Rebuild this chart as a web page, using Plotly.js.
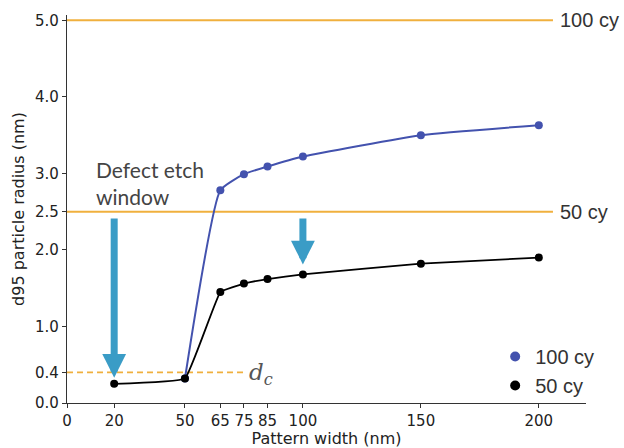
<!DOCTYPE html>
<html>
<head>
<meta charset="utf-8">
<script src="https://cdn.plot.ly/plotly-3.0.1.min.js"></script>
<style>html,body{margin:0;padding:0;background:#fff;}#chart{width:624px;height:448px;}</style>
</head>
<body>
<div id="chart"></div>
<script>
// Data
var widths100 = [50, 65, 75, 85, 100, 150, 200];
var radius100 = [0.32, 2.78, 2.99, 3.09, 3.22, 3.50, 3.63];
var widths50 = [20, 50, 65, 75, 85, 100, 150, 200];
var radius50 = [0.25, 0.32, 1.45, 1.56, 1.62, 1.68, 1.82, 1.90];
var seriesNames = ["100 cy", "50 cy"];
var limitLevels = [5.0, 2.5];          // "100 cy" and "50 cy" thresholds
var limitLabels = ["100 cy", "50 cy"];
var limitSpan = [0, 206];
var dcLevel = 0.4;
var dcSpan = [0, 75.5];
var xTicks = [0, 20, 50, 65, 75, 85, 100, 150, 200];
var yTicks = [0, 0.4, 1, 2, 2.5, 3, 4, 5];
var yTickText = ["0.0", "0.4", "1.0", "2.0", "2.5", "3.0", "4.0", "5.0"];
var arrowX = [20, 100];
var arrowTop = [2.43, 2.43];
var arrowTip = [0.33, 1.81];

var ORANGE = "#F0B03E";
var BLUE = "#4352AE";
var BLACK = "#000000";
var ARROW = "#3A9CC6";

var traces = [];
limitLevels.forEach(function (lv) {
  traces.push({x: limitSpan, y: [lv, lv], mode: "lines", line: {color: ORANGE, width: 2},
    showlegend: false, hoverinfo: "skip", cliponaxis: false});
});
traces.push({x: dcSpan, y: [dcLevel, dcLevel], mode: "lines", line: {color: ORANGE, width: 1.6, dash: "6px,4px"},
  showlegend: false, hoverinfo: "skip"});
traces.push({x: widths100, y: radius100, mode: "lines+markers", line: {color: BLUE, width: 2, shape: "spline", smoothing: 0.45},
  marker: {color: BLUE, size: 8}, showlegend: false});
traces.push({x: widths50, y: radius50, mode: "lines+markers", line: {color: BLACK, width: 1.8, shape: "spline", smoothing: 0.25},
  marker: {color: BLACK, size: 8}, showlegend: false});
// legend entries (markers only)
traces.push({x: [null], y: [null], mode: "markers", marker: {color: BLUE, size: 10}, name: seriesNames[0]});
traces.push({x: [null], y: [null], mode: "markers", marker: {color: BLACK, size: 10}, name: seriesNames[1]});

var annotations = [];
limitLevels.forEach(function (lv, i) {
  annotations.push({x: limitSpan[1], y: lv, xref: "x", yref: "y", text: limitLabels[i], showarrow: false,
    xanchor: "left", yanchor: "middle", xshift: 5, font: {family: "Liberation Sans, Arial, sans-serif", size: 20, color: "#333"}});
});
annotations.push({x: dcSpan[1], y: dcLevel, xref: "x", yref: "y", text: "<i>d</i><sub><i>c</i></sub>", showarrow: false,
  xanchor: "left", yanchor: "middle", xshift: 2, yshift: -2, font: {family: "DejaVu Serif, serif", size: 23, color: "#555"}});
annotations.push({x: 11.5, y: 2.88, xref: "x", yref: "y", text: "Defect etch<br>window", showarrow: false, align: "left",
  xanchor: "left", yanchor: "middle", font: {family: "Lato, sans-serif", size: 21, color: "#444"}});
arrowX.forEach(function (ax, i) {
  annotations.push({x: ax, y: arrowTip[i], ax: ax, ay: arrowTop[i], xref: "x", yref: "y", axref: "x", ayref: "y",
    text: "", showarrow: true, arrowhead: 2, arrowsize: 0.68, arrowwidth: 7, arrowcolor: ARROW, standoff: 0});
});

var tickFont = {family: "DejaVu Sans, sans-serif", size: 15, color: "#222"};
var layout = {
  width: 624, height: 448,
  margin: {l: 67, r: 38, t: 15, b: 45},
  paper_bgcolor: "#fff", plot_bgcolor: "#fff",
  showlegend: true,
  legend: {x: 0.825, y: 0.17, xanchor: "left", yanchor: "top", font: {family: "Liberation Sans, Arial, sans-serif", size: 20, color: "#333"},
    bgcolor: "rgba(0,0,0,0)", tracegroupgap: 0, itemwidth: 30},
  xaxis: {range: [0, 220], tickvals: xTicks, ticktext: xTicks.map(String), showgrid: false, zeroline: false,
    showline: true, linecolor: "#333", linewidth: 1.2, ticks: "outside", ticklen: 4, tickcolor: "#333", tickfont: tickFont,
    title: {text: "Pattern width (nm)", font: {family: "DejaVu Sans, sans-serif", size: 16, color: "#222"}, standoff: 3}},
  yaxis: {range: [0, 5.07], tickvals: yTicks, ticktext: yTickText, showgrid: false, zeroline: false,
    showline: true, linecolor: "#333", linewidth: 1.2, ticks: "outside", ticklen: 4, tickcolor: "#333", tickfont: tickFont,
    title: {text: "d95 particle radius (nm)", font: {family: "DejaVu Sans, sans-serif", size: 16, color: "#222"}, standoff: 6}},
  annotations: annotations
};
Plotly.newPlot("chart", traces, layout, {displayModeBar: false, staticPlot: true});
</script>
</body>
</html>
